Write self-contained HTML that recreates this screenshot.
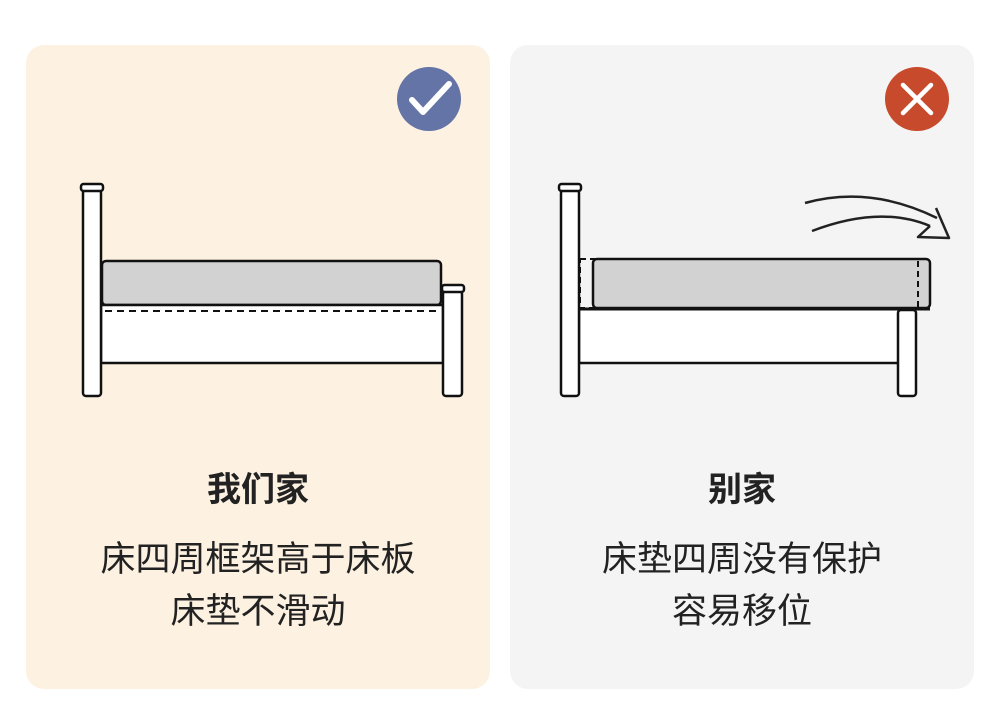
<!DOCTYPE html>
<html><head><meta charset="utf-8"><style>
html,body{margin:0;padding:0;background:#fff;}
body{width:1000px;height:722px;position:relative;overflow:hidden;font-family:"Liberation Sans","Noto Sans CJK SC",sans-serif;color:#222;}
.card{position:absolute;top:45px;width:464px;height:644px;border-radius:18px;}
.t{position:absolute;left:0;width:464px;text-align:center;line-height:40px;}
.h{top:425px;font-size:34px;font-weight:bold;}
.l1{top:495px;font-size:35px;}
.l2{top:547px;font-size:35px;}
svg{position:absolute;left:0;top:0;}
</style></head><body>
<div class="card" style="left:26px;background:#fdf1e1;">
<div class="t h">我们家</div>
<div class="t l1">床四周框架高于床板</div>
<div class="t l2">床垫不滑动</div>
</div>
<div class="card" style="left:510px;background:#f4f4f4;">
<div class="t h">别家</div>
<div class="t l1">床垫四周没有保护</div>
<div class="t l2">容易移位</div>
</div>
<svg width="1000" height="722" viewBox="0 0 1000 722">
<g stroke="#111" stroke-width="2.5" stroke-linejoin="round">
<rect x="102" y="261" width="339" height="44" rx="4" fill="#d2d2d2"/>
<rect x="101" y="305" width="342" height="58" fill="#fff"/>
<line x1="105" y1="311" x2="438" y2="311" stroke-dasharray="7,5" stroke-width="2"/>
<rect x="83" y="190" width="18" height="206" rx="3" fill="#fff"/>
<rect x="81" y="184" width="22" height="7" rx="2.5" fill="#fff"/>
<rect x="443" y="291" width="19" height="105" rx="3" fill="#fff"/>
<rect x="442" y="285" width="22" height="7" rx="2.5" fill="#fff"/>
<rect x="579" y="309" width="320" height="54" fill="#fff"/>
<rect x="898" y="310" width="18" height="86" rx="3" fill="#fff"/>
<rect x="593" y="259" width="337" height="49" rx="4" fill="#d2d2d2"/>
<rect x="580" y="259" width="338" height="49" fill="none" stroke-dasharray="6,4" stroke-width="2"/>
<line x1="579" y1="309" x2="930" y2="309" stroke-width="3"/>
<rect x="561" y="190" width="18" height="206" rx="3" fill="#fff"/>
<rect x="559" y="184" width="22" height="7" rx="2.5" fill="#fff"/>
<path d="M805 203 Q870 185 937 218" fill="none" stroke="#222" stroke-width="2.5"/>
<path d="M812 231 Q880 205 930 226" fill="none" stroke="#222" stroke-width="2.5"/>
<path d="M936 208 L949 238 L918 237 L930 226" fill="none" stroke="#222" stroke-width="2.5"/>
</g>
<circle cx="429" cy="99" r="32" fill="#6474a6"/>
<path d="M412 100 L423 112 L449 84" fill="none" stroke="#fff" stroke-width="6" stroke-linecap="round" stroke-linejoin="round"/>
<circle cx="917" cy="99" r="32" fill="#c84a2c"/>
<path d="M903 85 L931 113 M931 85 L903 113" stroke="#fff" stroke-width="4.5" stroke-linecap="round"/>
</svg>
</body></html>
